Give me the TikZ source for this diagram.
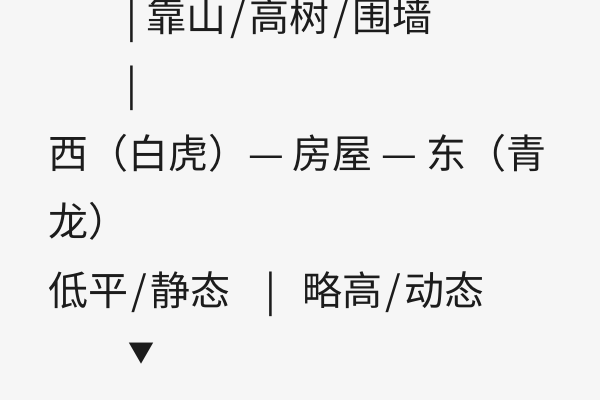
\documentclass[tikz,border=0pt]{standalone}
\usepackage{fontspec}
\newfontfamily\cjk{Noto Sans CJK SC}
\usetikzlibrary{positioning}
\definecolor{bgGray}{RGB}{246,246,246}
\definecolor{inkDark}{RGB}{28,28,28}
\newcommand{\Sl}{\hspace{1.8pt}/\hspace{1.8pt}}
\tikzset{
    line/.style={anchor=base west,inner sep=0pt,outer sep=0pt,font=\cjk\fontsize{20}{24}\selectfont,text=inkDark},
    arrowhead/.style={inner sep=0pt,outer sep=0pt,font=\cjk\fontsize{13}{15}\selectfont,text=inkDark},
}
\begin{document}
\begin{tikzpicture}[x=0.5pt,y=-0.5pt]
        \fill[bgGray] (0,0) rectangle (600,400);
        \useasboundingbox (0,0) rectangle (600,400);
        % north side
        \node[line] (north) at (126,32) {|\hspace{5pt}靠山\Sl 高树\Sl 围墙};
        \node[line] (stem) at (126,100) {|};
        % house between west and east
        \node[line] (house) at (48,169) {西（白虎）— 房屋 — 东（青};
        \node[line] (dragon) at (48,237) {龙）};
        % low side and high side
        \node[line] (low) at (48,306) {低平\Sl 静态};
        \node[line] (split) at (265,306) {|};
        \node[line] (high) at (302,306) {略高\Sl 动态};
        \node[arrowhead] (down) at (141,354) {▼};
\end{tikzpicture}
\end{document}
